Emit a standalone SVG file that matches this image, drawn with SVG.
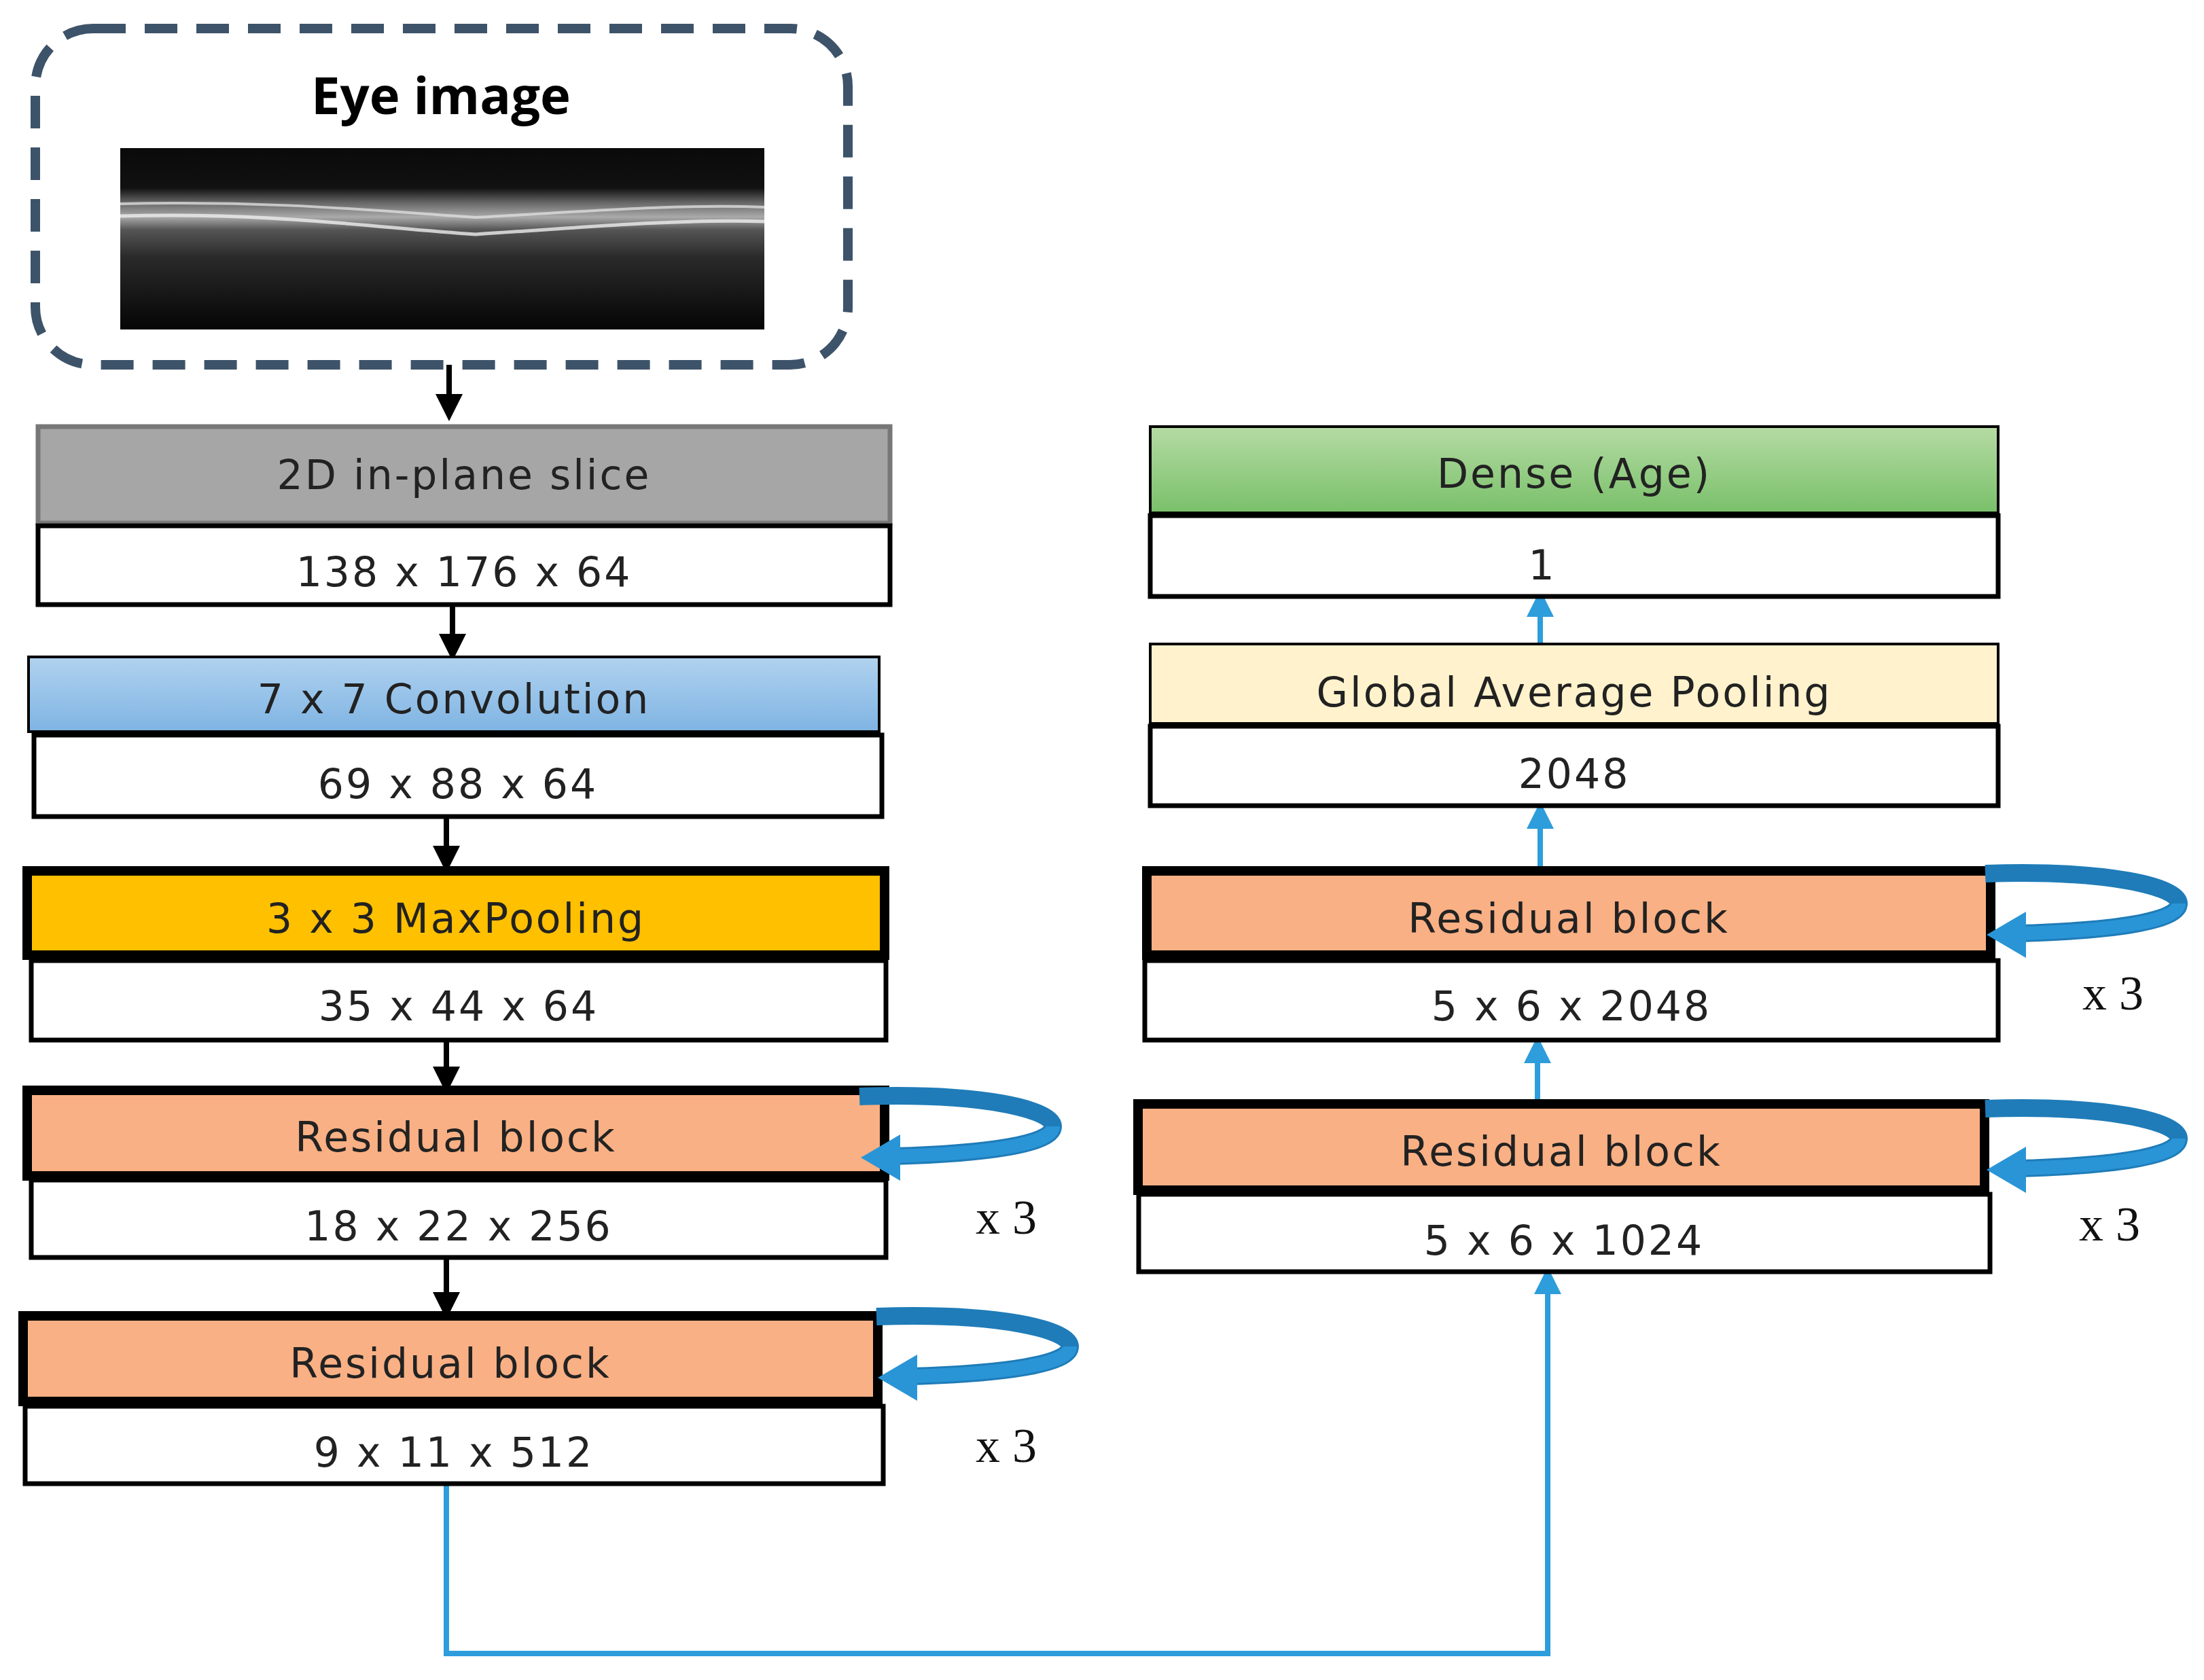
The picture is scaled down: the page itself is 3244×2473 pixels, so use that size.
<svg xmlns="http://www.w3.org/2000/svg" width="3244" height="2473" viewBox="0 0 3244 2473">
<style>
.t{font-family:"DejaVu Sans",sans-serif;font-size:60px;fill:#222;text-anchor:middle;letter-spacing:3px}
.x{font-family:"Liberation Serif",serif;font-size:72px;fill:#111;text-anchor:middle}
.box{stroke:#000;stroke-width:7}
.thick{stroke:#000;stroke-width:14}
.blk{stroke:#000;stroke-width:8;fill:none}
.blu{stroke:#2d9ddb;stroke-width:8;fill:none}
</style>
<defs>
<linearGradient id="conv" x1="0" y1="0" x2="0" y2="1"><stop offset="0" stop-color="#b0d2ef"/><stop offset="1" stop-color="#7fb4e3"/></linearGradient>
<linearGradient id="dense" x1="0" y1="0" x2="0" y2="1"><stop offset="0" stop-color="#b5dba3"/><stop offset="1" stop-color="#79c06a"/></linearGradient>
<linearGradient id="oct" x1="0" y1="0" x2="0" y2="1"><stop offset="0" stop-color="#0a0a0a"/><stop offset="0.22" stop-color="#111"/><stop offset="0.3" stop-color="#666"/><stop offset="0.38" stop-color="#aaa"/><stop offset="0.45" stop-color="#555"/><stop offset="0.6" stop-color="#2a2a2a"/><stop offset="1" stop-color="#050505"/></linearGradient>
<marker id="ab" viewBox="0 0 10 10" refX="5" refY="5" markerWidth="5" markerHeight="5" orient="auto"><path d="M0,0 L10,5 L0,10 z" fill="#000"/></marker>
<marker id="au" viewBox="0 0 10 10" refX="5" refY="5" markerWidth="5" markerHeight="5" orient="auto"><path d="M0,0 L10,5 L0,10 z" fill="#2d9ddb"/></marker>
<g id="loop">
<path d="M0,6 C180,0 285,25 285,50 C285,76 190,90 50,94" fill="none" stroke="#1f7cb8" stroke-width="26"/>
<path d="M285,50 C285,76 190,90 50,94" fill="none" stroke="#2a95d6" stroke-width="20"/>
<polygon points="60,62 2,96 60,130" fill="#2a95d6"/>
</g>
</defs>
<rect width="3244" height="2473" fill="#fff"/>
<g id="eye">
<rect x="52" y="42" width="1196" height="495" rx="85" fill="none" stroke="#3d5369" stroke-width="14" stroke-dasharray="48,28"/>
<text x="649" y="168" font-family="'Open Sans','DejaVu Sans',sans-serif" font-weight="bold" font-size="76" text-anchor="middle" fill="#000">Eye image</text>
<rect x="177" y="218" width="948" height="267" fill="url(#oct)"/>
<path d="M177,300 C400,295 550,310 700,320 C850,312 1000,300 1125,305" stroke="#ddd" stroke-width="4" fill="none" opacity="0.8"/>
<path d="M177,318 C400,312 550,335 700,345 C850,335 1000,322 1125,326" stroke="#eee" stroke-width="5" fill="none" opacity="0.8"/>
</g>
<g id="connectors">
<line x1="661" y1="537" x2="661" y2="600" class="blk" marker-end="url(#ab)"/>
<line x1="666" y1="890" x2="666" y2="953" class="blk" marker-end="url(#ab)"/>
<line x1="657" y1="1202" x2="657" y2="1265" class="blk" marker-end="url(#ab)"/>
<line x1="657" y1="1531" x2="657" y2="1590" class="blk" marker-end="url(#ab)"/>
<line x1="657" y1="1851" x2="657" y2="1922" class="blk" marker-end="url(#ab)"/>
<polyline points="657,2184 657,2434 2278,2434 2278,1885" class="blu" marker-end="url(#au)"/>
<line x1="2263" y1="1622" x2="2263" y2="1545" class="blu" marker-end="url(#au)"/>
<line x1="2267" y1="1279" x2="2267" y2="1200" class="blu" marker-end="url(#au)"/>
<line x1="2267" y1="953" x2="2267" y2="888" class="blu" marker-end="url(#au)"/>
</g>
<g id="slice">
<rect x="56" y="628" width="1254" height="142" fill="#a6a6a6" stroke="#777" stroke-width="7"/>
<text x="683" y="720" class="t">2D in-plane slice</text>
<rect x="56" y="774" width="1254" height="116" fill="#fff" class="box"/>
<text x="683" y="863" class="t">138 x 176 x 64</text>
</g>
<g id="conv7">
<rect x="42" y="967" width="1252" height="110" fill="url(#conv)" stroke="#000" stroke-width="4"/>
<text x="668" y="1050" class="t">7 x 7 Convolution</text>
<rect x="50" y="1082" width="1248" height="120" fill="#fff" class="box"/>
<text x="674" y="1175" class="t">69 x 88 x 64</text>
</g>
<g id="maxpool">
<rect x="40" y="1282" width="1262" height="124" fill="#ffc000" class="thick"/>
<text x="671" y="1373" class="t">3 x 3 MaxPooling</text>
<rect x="46" y="1414" width="1258" height="117" fill="#fff" class="box"/>
<text x="675" y="1502" class="t">35 x 44 x 64</text>
</g>
<g id="res1">
<rect x="40" y="1605" width="1262" height="126" fill="#f9b084" class="thick"/>
<text x="671" y="1695" class="t">Residual block</text>
<rect x="46" y="1737" width="1258" height="114" fill="#fff" class="box"/>
<text x="675" y="1826" class="t">18 x 22 x 256</text>
<use href="#loop" x="1265" y="1608"/>
<text x="1481" y="1816" class="x">x 3</text>
</g>
<g id="res2">
<rect x="34" y="1937" width="1258" height="126" fill="#f9b084" class="thick"/>
<text x="663" y="2028" class="t">Residual block</text>
<rect x="37" y="2070" width="1263" height="114" fill="#fff" class="box"/>
<text x="668" y="2159" class="t">9 x 11 x 512</text>
<use href="#loop" x="1290" y="1932"/>
<text x="1481" y="2152" class="x">x 3</text>
</g>
<g id="dense">
<rect x="1693" y="628" width="1248" height="127" fill="url(#dense)" stroke="#000" stroke-width="4"/>
<text x="2317" y="718" class="t">Dense (Age)</text>
<rect x="1693" y="759" width="1248" height="119" fill="#fff" class="box"/>
<text x="2270" y="853" class="t">1</text>
</g>
<g id="gap">
<rect x="1693" y="948" width="1248" height="117" fill="#fff2cc" stroke="#000" stroke-width="4"/>
<text x="2317" y="1040" class="t">Global Average Pooling</text>
<rect x="1693" y="1069" width="1248" height="117" fill="#fff" class="box"/>
<text x="2317" y="1160" class="t">2048</text>
</g>
<g id="res3">
<rect x="1688" y="1282" width="1242" height="124" fill="#f9b084" class="thick"/>
<text x="2309" y="1373" class="t">Residual block</text>
<rect x="1685" y="1414" width="1256" height="117" fill="#fff" class="box"/>
<text x="2313" y="1502" class="t">5 x 6 x 2048</text>
<use href="#loop" x="2922" y="1280"/>
<text x="3110" y="1486" class="x">x 3</text>
</g>
<g id="res4">
<rect x="1675" y="1625" width="1246" height="127" fill="#f9b084" class="thick"/>
<text x="2298" y="1716" class="t">Residual block</text>
<rect x="1676" y="1758" width="1253" height="114" fill="#fff" class="box"/>
<text x="2302" y="1847" class="t">5 x 6 x 1024</text>
<use href="#loop" x="2922" y="1626"/>
<text x="3105" y="1826" class="x">x 3</text>
</g>
</svg>
